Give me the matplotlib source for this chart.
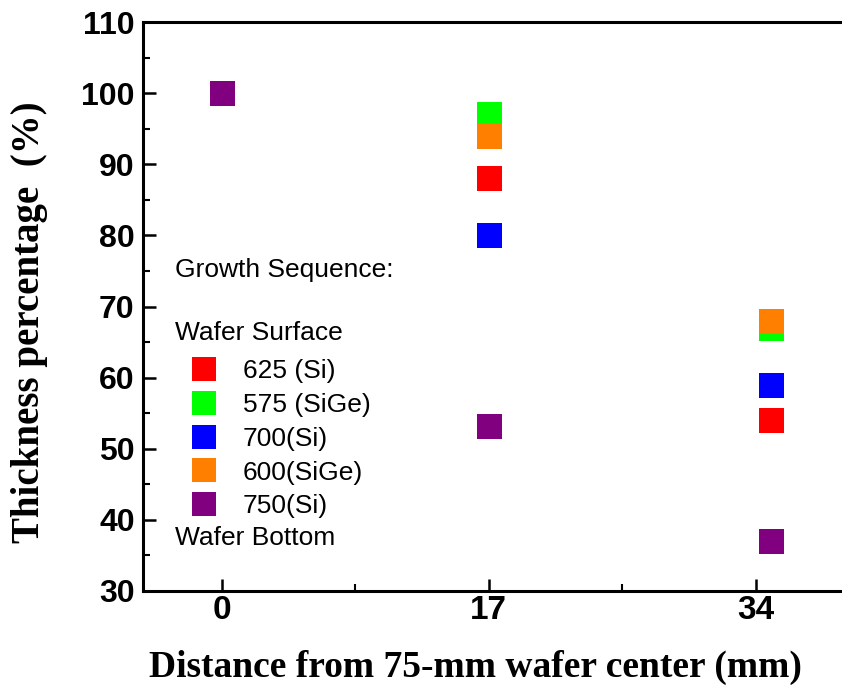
import numpy as np
import matplotlib
matplotlib.use("Agg")
import matplotlib.pyplot as plt
from matplotlib.ticker import MultipleLocator, FixedLocator

# data
series_names = ['625 (Si)', '575 (SiGe)', '700(Si)', '600(SiGe)', '750(Si)']
series_colors = ['#ff0000', '#00ff00', '#0000ff', '#ff8000', '#800080']
x_vals = {
    '625 (Si)': [17, 35],
    '575 (SiGe)': [17, 35],
    '700(Si)': [17, 35],
    '600(SiGe)': [17, 35],
    '750(Si)': [0, 17, 35],
}
y_vals = {
    '625 (Si)': [88, 54],
    '575 (SiGe)': [97, 67],
    '700(Si)': [80, 59],
    '600(SiGe)': [94, 68],
    '750(Si)': [100, 53.2, 37],
}
x_ticks = [0, 17, 34]
x_minor = [8.5, 25.5]

fig = plt.figure(figsize=(8.42, 6.94), dpi=100)
ax = fig.add_axes([143/842, 103/694, 707/842, 569/694])

for name, col in zip(series_names, series_colors):
    ax.plot(x_vals[name], y_vals[name], 's', color=col, markersize=18,
            markeredgewidth=0, label=name, clip_on=False)

ax.set_xlim(-5, 40)
ax.set_ylim(30, 110)
ax.xaxis.set_major_locator(FixedLocator(x_ticks))
ax.xaxis.set_minor_locator(FixedLocator(x_minor))
ax.yaxis.set_major_locator(MultipleLocator(10))
ax.yaxis.set_minor_locator(MultipleLocator(5))
ax.tick_params(which='major', direction='in', length=9, width=1.8)
ax.tick_params(which='minor', direction='in', length=5, width=1.5)
ax.tick_params(axis='y', which='both', right=False, labelsize=23, pad=6)
ax.tick_params(axis='x', which='both', top=False, labelsize=24, pad=3)
for lab in ax.get_yticklabels() + ax.get_xticklabels():
    lab.set_fontfamily('Liberation Sans')
    lab.set_fontweight('bold')
ax.spines['right'].set_visible(False)
for s in ['left', 'bottom', 'top']:
    ax.spines[s].set_linewidth(2.2)

ax.set_xlabel('Distance from 75-mm wafer center (mm)', fontfamily='Liberation Serif',
              fontweight='bold', fontsize=27)
ax.set_ylabel('Thickness percentage  (%)', fontfamily='Liberation Serif',
              fontweight='bold', fontsize=28)
ax.xaxis.set_label_coords(0.47, -0.104)
ax.yaxis.set_label_coords(-0.134, 0.473)

txt = dict(fontfamily='Liberation Sans', fontsize=19, transform=ax.transAxes,
           va='center', ha='left')
ax.text(0.045, 0.564, 'Growth Sequence:', **txt)
ax.text(0.045, 0.453, 'Wafer Surface', **txt)
ax.text(0.045, 0.093, 'Wafer Bottom', **txt)

leg = ax.legend(loc='upper left', bbox_to_anchor=(0.068, 0.407), frameon=False,
                borderpad=0, borderaxespad=0, handlelength=0.95, handletextpad=1.0,
                labelspacing=0.37, markerscale=0.95,
                prop={'family': 'Liberation Sans', 'size': 19})

fig.savefig('out.png', dpi=100)
